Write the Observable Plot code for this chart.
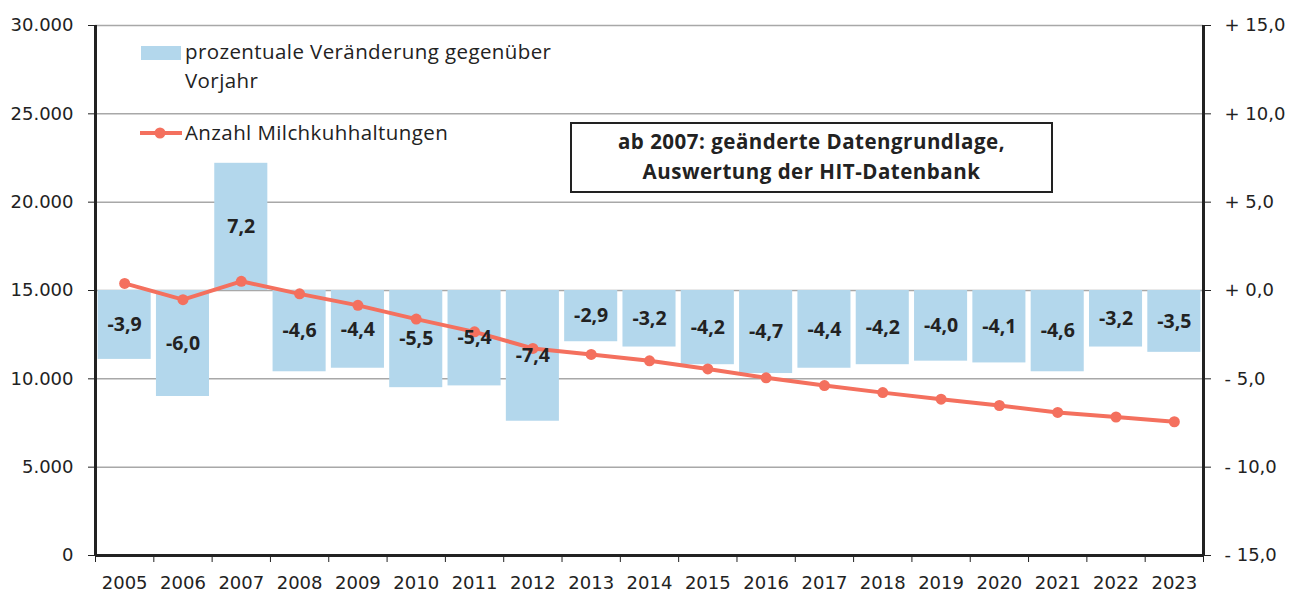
<!DOCTYPE html>
<html>
<head>
<meta charset="utf-8">
<script src="https://cdn.jsdelivr.net/npm/d3@7"></script>
<script src="https://cdn.jsdelivr.net/npm/@observablehq/plot@0.6"></script>
<style>
  body { margin: 0; background: #fff; }
  #chart { position: relative; width: 1290px; height: 592px; }
</style>
</head>
<body>
<div id="chart"></div>
<script>
const years = [2005,2006,2007,2008,2009,2010,2011,2012,2013,2014,2015,2016,2017,2018,2019,2020,2021,2022,2023];
const pctChange = [-3.9,-6.0,7.2,-4.6,-4.4,-5.5,-5.4,-7.4,-2.9,-3.2,-4.2,-4.7,-4.4,-4.2,-4.0,-4.1,-4.6,-3.2,-3.5];
const farms = [15400,14480,15520,14810,14160,13380,12660,11720,11380,11020,10560,10060,9620,9220,8850,8490,8100,7840,7570];
const leftTicks = [0,5000,10000,15000,20000,25000,30000];
const rightTickLabels = ["- 15,0","- 10,0","- 5,0","+ 0,0","+ 5,0","+ 10,0","+ 15,0"];
const legendLabels = ["prozentuale Veränderung gegenüber", "Vorjahr", "Anzahl Milchkuhhaltungen"];
const noteLines = ["ab 2007: geänderte Datengrundlage,", "Auswertung der HIT-Datenbank"];

// right axis (percent) mapped onto left scale: count = 15000 + pct*1000
const toLeft = p => 15000 + p * 1000;
const data = years.map((y, i) => ({year: y, pct: pctChange[i], farms: farms[i]}));
const boundaries = years.map(y => y - 0.5).concat([years[years.length - 1] + 0.5]);

const barColor = "#b3d7ec";
const lineColor = "#f4705e";
const ink = "#222";
const axisFont = "DejaVu Sans, sans-serif";
const textFont = "Open Sans, sans-serif";

const fmtLeft = d => d3.format(",")(d).replace(/,/g, ".");
const fmtPct = v => String(v.toFixed(1)).replace(".", ",");

const plot = Plot.plot({
  width: 1290,
  height: 592,
  marginLeft: 95,
  marginRight: 87,
  marginTop: 25,
  marginBottom: 37,
  style: {fontSize: "18px", fontFamily: axisFont, color: ink, background: "#fff"},
  x: {domain: [2004.5, 2023.5]},
  y: {domain: [0, 30000]},
  marks: [
    Plot.ruleY(leftTicks.slice(1), {stroke: "#a8a8a8", strokeWidth: 1.5}),
    Plot.rectY(data, {
      x1: d => d.year - 0.455,
      x2: d => d.year + 0.455,
      y1: 15000,
      y2: d => toLeft(d.pct),
      fill: barColor
    }),
    Plot.line(data, {x: "year", y: "farms", stroke: lineColor, strokeWidth: 4}),
    Plot.dot(data, {x: "year", y: "farms", fill: lineColor, r: 5.5}),
    Plot.text(data, {
      x: "year",
      y: d => toLeft(d.pct / 2),
      text: d => fmtPct(d.pct),
      fill: ink,
      fontWeight: "bold",
      fontSize: 19.5,
      fontFamily: textFont
    }),
    Plot.axisY({
      anchor: "left", ticks: leftTicks, tickFormat: fmtLeft,
      tickSize: 7, tickPadding: 15, tickStrokeWidth: 2.5, stroke: ink, fill: ink, label: null, fontSize: 18
    }),
    Plot.axisY({
      anchor: "right", ticks: leftTicks, tickFormat: (d, i) => rightTickLabels[i],
      tickSize: 7, tickPadding: 14, tickStrokeWidth: 2.5, stroke: ink, fill: ink, label: null, fontSize: 18
    }),
    Plot.axisX({
      ticks: boundaries, tickFormat: () => "", tickSize: 7, tickStrokeWidth: 2.5, stroke: ink, label: null
    }),
    Plot.axisX({
      ticks: years, tickFormat: d => String(d), tickSize: 0, tickPadding: 20.5, fill: ink, label: null, fontSize: 18
    }),
    Plot.ruleX([2004.5, 2023.5], {stroke: ink, strokeWidth: 3}),
    Plot.ruleY([0], {stroke: ink, strokeWidth: 3})
  ]
});

document.getElementById("chart").appendChild(plot);

// Legend and note drawn inside the SVG
const svg = d3.select(plot);
const g = svg.append("g").attr("font-family", textFont).attr("fill", ink).attr("text-anchor", "start");
g.append("rect").attr("x", 141).attr("y", 46).attr("width", 40).attr("height", 14).attr("fill", barColor);
g.append("text").attr("x", 185).attr("y", 59).attr("font-size", 20.5).attr("letter-spacing", 0.4).text(legendLabels[0]);
g.append("text").attr("x", 185).attr("y", 88).attr("font-size", 20.5).attr("letter-spacing", 0.4).text(legendLabels[1]);
g.append("line").attr("x1", 140).attr("x2", 182).attr("y1", 133).attr("y2", 133).attr("stroke", lineColor).attr("stroke-width", 4);
g.append("circle").attr("cx", 160).attr("cy", 133).attr("r", 5.5).attr("fill", lineColor);
g.append("text").attr("x", 185).attr("y", 140).attr("font-size", 20.5).attr("letter-spacing", 0.4).text(legendLabels[2]);

g.append("rect").attr("x", 571).attr("y", 123).attr("width", 481).attr("height", 69)
  .attr("fill", "#fff").attr("stroke", ink).attr("stroke-width", 2);
g.append("text").attr("x", 811.5).attr("y", 149).attr("text-anchor", "middle").attr("font-size", 20.5).attr("letter-spacing", 0.5).attr("font-weight", "bold").text(noteLines[0]);
g.append("text").attr("x", 811.5).attr("y", 179).attr("text-anchor", "middle").attr("font-size", 20.5).attr("letter-spacing", 0.5).attr("font-weight", "bold").text(noteLines[1]);
</script>
</body>
</html>
